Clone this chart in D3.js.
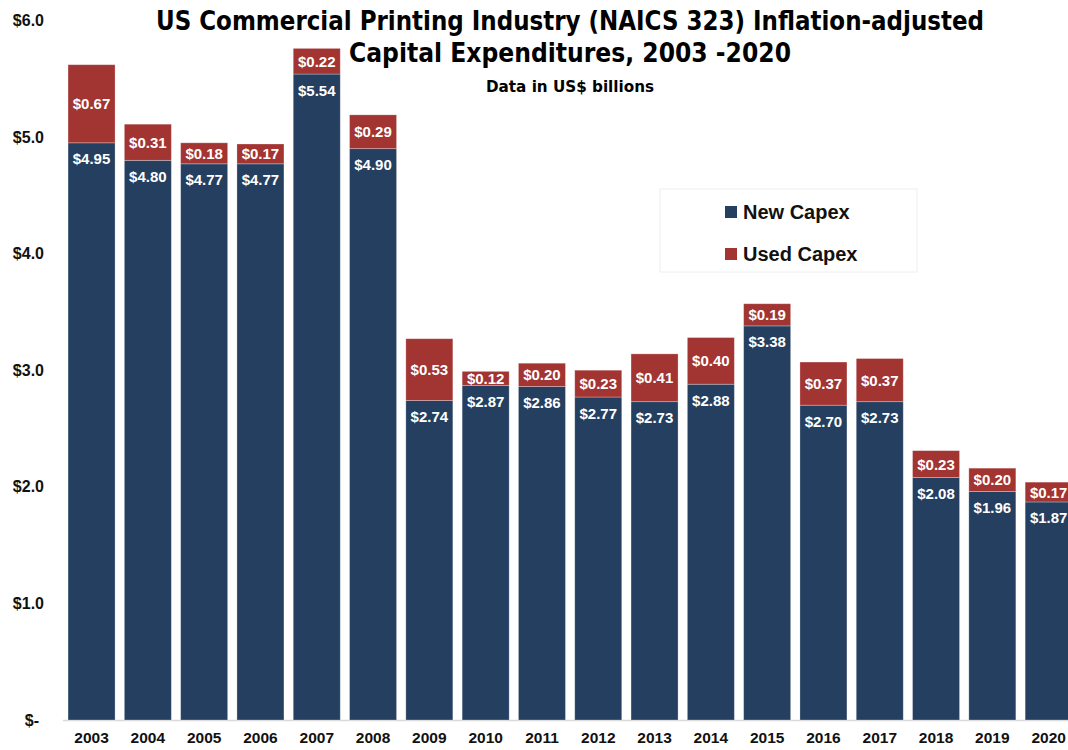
<!DOCTYPE html>
<html>
<head>
<meta charset="utf-8">
<script src="https://cdn.jsdelivr.net/npm/d3@7"></script>
<style>
  html, body { margin: 0; padding: 0; background: #fff; }
  svg { display: block; }
  .cond { font-family: "Liberation Sans Narrow", "DejaVu Sans Condensed", "Liberation Sans", Arial, sans-serif; font-weight: bold; }
  .lbl { font-family: "Liberation Sans", Arial, sans-serif; font-weight: bold; }
</style>
</head>
<body>
<svg id="chart" width="1068" height="750"></svg>
<script>
// Capital expenditures, US$ billions (inflation-adjusted)
const years = ["2003","2004","2005","2006","2007","2008","2009","2010","2011",
               "2012","2013","2014","2015","2016","2017","2018","2019","2020"];
const newCapex  = [4.95, 4.80, 4.77, 4.77, 5.54, 4.90, 2.74, 2.87, 2.86,
                   2.77, 2.73, 2.88, 3.38, 2.70, 2.73, 2.08, 1.96, 1.87];
const usedCapex = [0.67, 0.31, 0.18, 0.17, 0.22, 0.29, 0.53, 0.12, 0.20,
                   0.23, 0.41, 0.40, 0.19, 0.37, 0.37, 0.23, 0.20, 0.17];
const yTicks = [0, 1, 2, 3, 4, 5, 6];
const seriesNames = ["New Capex", "Used Capex"];
const colors = ["#253f60", "#a23432"];

const svg = d3.select("#chart");

const x = d3.scaleBand()
  .domain(years)
  .range([63.4, 1076.8])
  .paddingInner(0.165)
  .paddingOuter(0.0825);

const y = d3.scaleLinear().domain([0, 6]).range([720, 20.4]);

const rows = years.map((yr, i) => ({ year: yr, newV: newCapex[i], usedV: usedCapex[i] }));
const stacked = d3.stack().keys(["newV", "usedV"])(rows);

// Baseline
svg.append("line")
  .attr("x1", 63).attr("x2", 1068)
  .attr("y1", y(0) + 0.5).attr("y2", y(0) + 0.5)
  .attr("stroke", "#d9d9d9").attr("stroke-width", 1.5);

// Y axis labels
const yAxis = d3.axisLeft(y)
  .tickValues(yTicks)
  .tickSize(0)
  .tickPadding(0)
  .tickFormat(d => d === 0 ? "$-" : "$" + d3.format(".1f")(d));
const yg = svg.append("g").attr("transform", "translate(44,0)").call(yAxis);
yg.select(".domain").remove();
yg.selectAll("text")
  .attr("class", "lbl")
  .attr("font-size", 16)
  .attr("fill", "#111")
  .attr("dx", d => d === 0 ? -5 : 0);

// X axis labels
const xAxis = d3.axisBottom(x).tickSize(0).tickPadding(0);
const xg = svg.append("g").attr("transform", "translate(0,732)").call(xAxis);
xg.select(".domain").remove();
xg.selectAll("text")
  .attr("class", "lbl")
  .attr("font-size", 15.5)
  .attr("fill", "#111")
  .attr("dy", "0.71em");

// Stacked bars
svg.append("g").selectAll("g")
  .data(stacked)
  .join("g")
  .attr("fill", (d, i) => colors[i])
  .selectAll("rect")
  .data(d => d)
  .join("rect")
  .attr("x", d => x(d.data.year))
  .attr("width", x.bandwidth())
  .attr("y", d => y(d[1]))
  .attr("height", d => y(d[0]) - y(d[1]))
  .attr("stroke", "rgba(255,255,255,0.35)")
  .attr("stroke-width", 0.8);

const money = d3.format("$.2f");

// Used capex labels, centred in the red segment
svg.append("g").selectAll("text")
  .data(stacked[1])
  .join("text")
  .attr("class", "lbl")
  .attr("font-size", 15)
  .attr("fill", "#fff")
  .attr("text-anchor", "middle")
  .attr("dominant-baseline", "central")
  .attr("x", d => x(d.data.year) + x.bandwidth() / 2)
  .attr("y", d => (y(d[0]) + y(d[1])) / 2)
  .text(d => money(d.data.usedV));

// New capex labels, just inside the top of the blue segment
svg.append("g").selectAll("text")
  .data(stacked[0])
  .join("text")
  .attr("class", "lbl")
  .attr("font-size", 15)
  .attr("fill", "#fff")
  .attr("text-anchor", "middle")
  .attr("dominant-baseline", "central")
  .attr("x", d => x(d.data.year) + x.bandwidth() / 2)
  .attr("y", d => y(d[1]) + 16)
  .text(d => money(d.data.newV));

// Title
const title = svg.append("g").attr("class", "cond").attr("text-anchor", "middle").attr("fill", "#000");
title.append("text").attr("x", 570).attr("y", 30).attr("font-size", 27)
  .attr("textLength", 828).attr("lengthAdjust", "spacingAndGlyphs")
  .text("US Commercial Printing Industry (NAICS 323) Inflation-adjusted");
title.append("text").attr("x", 570).attr("y", 62).attr("font-size", 27)
  .attr("textLength", 442).attr("lengthAdjust", "spacingAndGlyphs")
  .text("Capital Expenditures, 2003 -2020");
title.append("text").attr("x", 570).attr("y", 92).attr("font-size", 16)
  .attr("textLength", 168).attr("lengthAdjust", "spacingAndGlyphs")
  .text("Data in US$ billions");

// Legend
const legend = svg.append("g");
legend.append("rect")
  .attr("x", 660).attr("y", 189).attr("width", 257).attr("height", 83)
  .attr("fill", "#fff").attr("stroke", "#eeeeee").attr("stroke-width", 1);
const li = legend.selectAll("g.item")
  .data(seriesNames)
  .join("g")
  .attr("class", "item")
  .attr("transform", (d, i) => `translate(725,${212 + i * 42})`);
li.append("rect")
  .attr("x", 0).attr("y", -6).attr("width", 12).attr("height", 12)
  .attr("fill", (d, i) => colors[i]);
li.append("text")
  .attr("class", "lbl")
  .attr("x", 18).attr("y", 0)
  .attr("dominant-baseline", "central")
  .attr("font-size", 20)
  .attr("fill", "#111")
  .text(d => d);
</script>
</body>
</html>
